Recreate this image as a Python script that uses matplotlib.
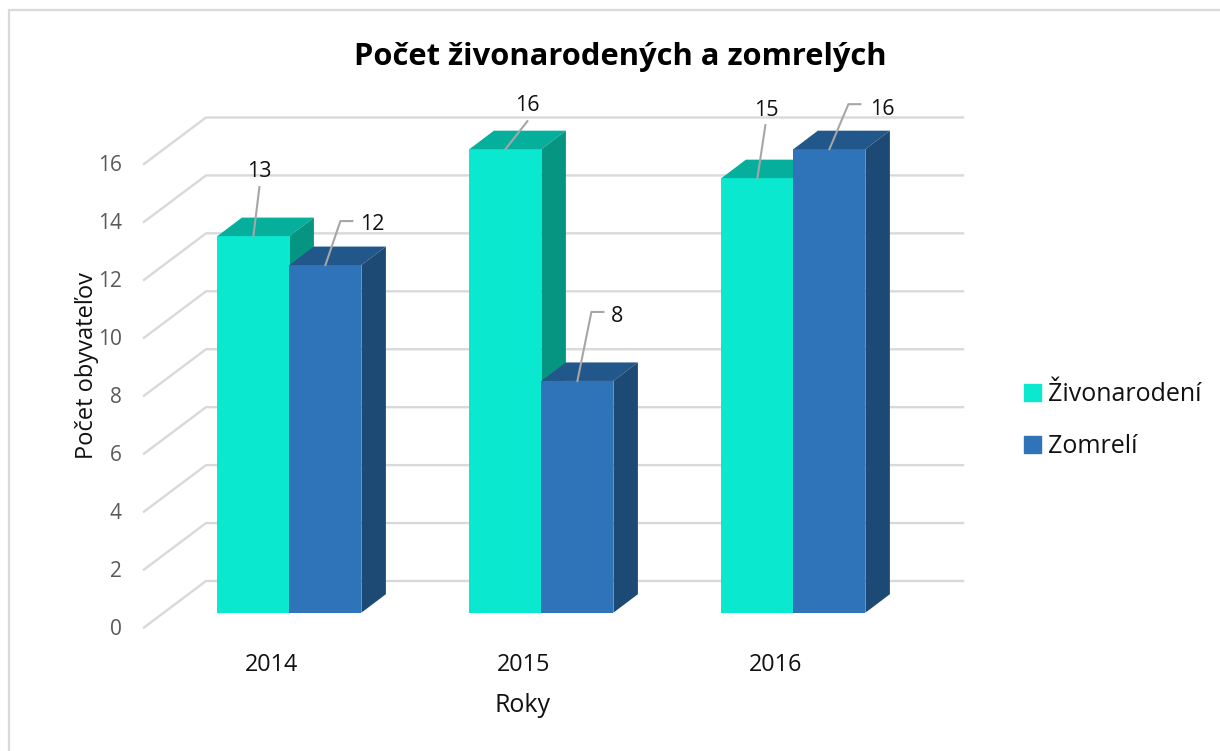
import matplotlib
matplotlib.use('Agg')
import matplotlib.pyplot as plt
from matplotlib.patches import Polygon, Patch

plt.rcParams['font.family'] = ['Open Sans', 'DejaVu Sans']

# data
years = ['2014', '2015', '2016']
zivonarodeni = [13, 16, 15]
zomreli = [12, 8, 16]
yticks = [0, 2, 4, 6, 8, 10, 12, 14, 16]
series_names = ['Živonarodení', 'Zomrelí']

# scale of the picture, px
W, H = 1220, 751
X0, Y0 = 289.4, 612.7   # group 0 boundary, value 0
PX_X, PX_Y = 252.0, 28.97

fig = plt.figure(figsize=(W / 100, H / 100), dpi=100)
ax = fig.add_axes([0, 0, 1, 1])
ax.set_xlim(-X0 / PX_X, (W - X0) / PX_X)
ax.set_ylim(-(H - Y0) / PX_Y, Y0 / PX_Y)
ax.axis('off')

def ox(px):
    return px / PX_X

def oy(px):
    # px measured upward
    return px / PX_Y

# chart border, only top and left are in the picture
ax.plot([ox(9 - X0), ox(9 - X0), ox(W - X0)], [oy(Y0 - H), oy(Y0 - 10), oy(Y0 - 10)],
        color='#d9d9d9', lw=1.6, zorder=0, solid_joinstyle='miter')

# walls: gridlines with the slanted part on the left
wall_l, wall_r = ox(144 - X0), ox(206 - X0)
wall_end = ox(963 - X0)
floor_y, back_y = oy(Y0 - 627.5), oy(Y0 - 581)
for t in yticks:
    ax.plot([wall_l, wall_r, wall_end], [t + floor_y, t + back_y, t + back_y],
            color='#d9d9d9', lw=1.7, zorder=1, solid_joinstyle='miter')
    ax.text(ox(122 - X0), t + floor_y - oy(2), str(t), ha='right', va='center',
            fontsize=15, color='#595959')

bar_w = 72.0 / PX_X
dx, dy = ox(24.5), oy(18.5)

def bar3d(x, v, front, top, side):
    ax.bar(x, v, width=bar_w, align='edge', color=front, zorder=3)
    ax.add_patch(Polygon([(x, v), (x + dx, v + dy), (x + bar_w + dx, v + dy), (x + bar_w, v)],
                         closed=True, fc=top, ec='none', zorder=3))
    ax.add_patch(Polygon([(x + bar_w, 0), (x + bar_w + dx, dy), (x + bar_w + dx, v + dy), (x + bar_w, v)],
                         closed=True, fc=side, ec='none', zorder=3))

for i in range(len(years)):
    bar3d(i - bar_w, zivonarodeni[i], '#0ae8d0', '#05af9b', '#069580')
    bar3d(i, zomreli[i], '#2f74b8', '#21578b', '#1d4a75')
    ax.text(i + ox(-18), oy(Y0 - 665), years[i], ha='center', va='center',
            fontsize=16.8, color='#111111')

# leader lines, px offsets from the bar's top centre, then label offset
leaders = [
    (-1, 0, [(0, 0), (6, 49)], (6, 65)),
    (0, 0, [(0, 0), (15, 44), (27, 44)], (47, 41)),
    (-1, 1, [(0, 0), (22, 28)], (22, 44)),
    (0, 1, [(0, 0), (14, 69), (26, 69)], (40, 64)),
    (-1, 2, [(0, 0), (8, 53)], (9, 68)),
    (0, 2, [(0, 0), (19, 45), (31, 45)], (53, 40)),
]
for side, i, pts, lab in leaders:
    vals = zivonarodeni if side < 0 else zomreli
    v = vals[i]
    cx = i + side * bar_w + bar_w / 2
    ax.plot([cx + ox(p[0]) for p in pts], [v + oy(p[1]) for p in pts],
            color='#a6a6a6', lw=1.5, zorder=4)
    ax.text(cx + ox(lab[0]), v + oy(lab[1]), str(v), ha='center', va='center',
            fontsize=15.5, color='#111111', zorder=5)

ax.text(ox(620 - X0), oy(Y0 - 57), 'Počet živonarodených a zomrelých', ha='center', va='center',
        fontsize=22.2, fontweight='bold', color='#000000')
ax.text(ox(523 - X0), oy(Y0 - 706), 'Roky', ha='center', va='center', fontsize=18, color='#111111')
ax.text(ox(87 - X0), oy(Y0 - 366), 'Počet obyvateľov', rotation=90, ha='center', va='center',
        fontsize=17, color='#111111')

handles = [Patch(color='#0ae8d0', label=series_names[0]), Patch(color='#2f74b8', label=series_names[1])]
ax.legend(handles=handles, loc='center left', bbox_to_anchor=(1016 / W, 1 - 420.5 / H), frameon=False,
          fontsize=18, handlelength=0.68, handleheight=0.68, handletextpad=0.3, labelspacing=1.07,
          borderpad=0.3, borderaxespad=0, labelcolor='#111111')

fig.savefig('out.png', dpi=100)
